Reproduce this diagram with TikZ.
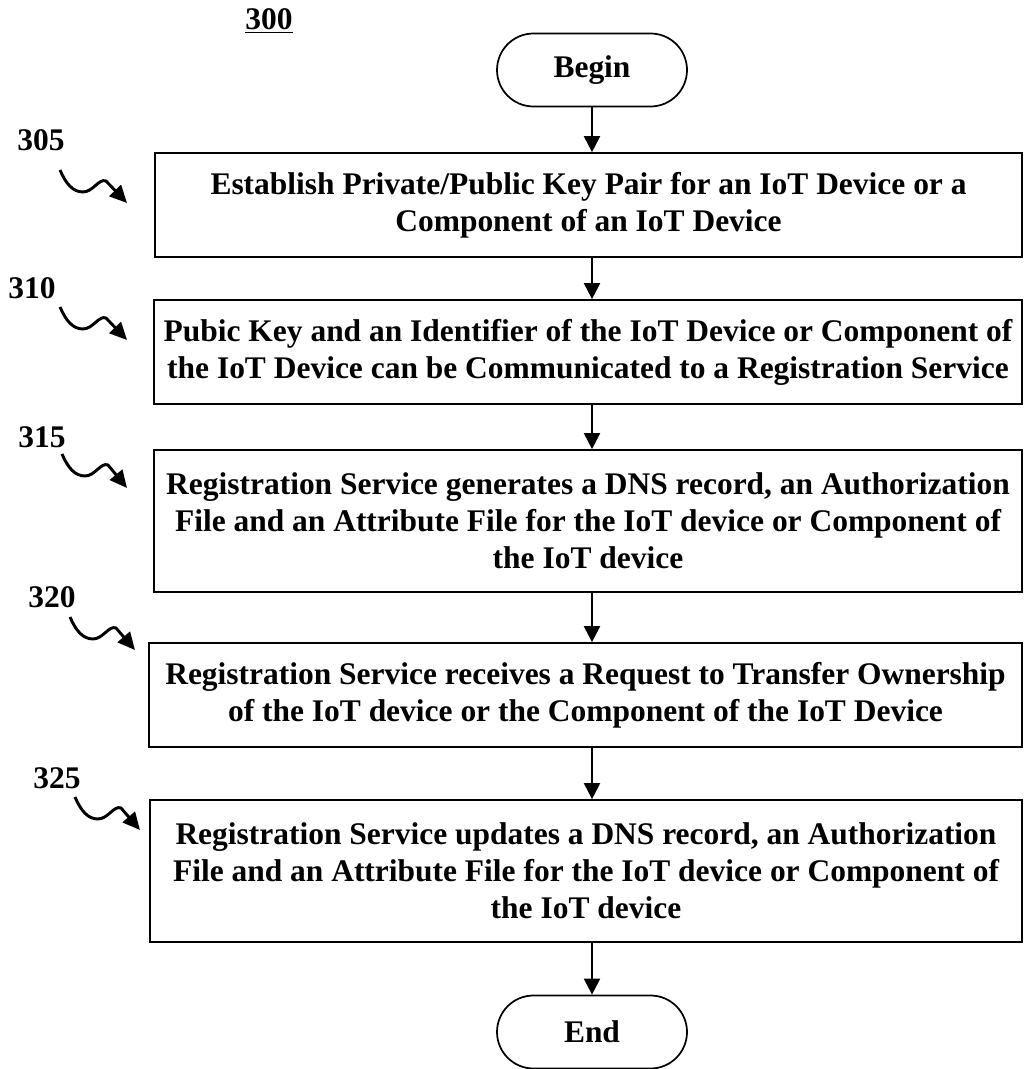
\documentclass[tikz,border=0pt]{standalone}
\usepackage{fontspec}
\setmainfont{Liberation Serif}
\usetikzlibrary{shapes.misc,arrows.meta}
\begin{document}
\begin{tikzpicture}[x=0.75pt,y=-0.75pt,
  txt/.style={font=\fontsize{23.6}{27.75}\selectfont\bfseries},
  stepbox/.style={txt,draw,line width=1.3pt,align=center,inner sep=0pt},
  term/.style={txt,draw,rounded rectangle,line width=1.3pt,minimum width=142.5pt,minimum height=54.75pt,inner sep=0pt},
  flow/.style={line width=1.6pt,-{Triangle[length=12pt,width=12pt]}},
  squig/.style={line width=2.2pt,-{Triangle[length=13pt,width=12pt]}},
  lbl/.style={txt,inner sep=0pt}]
\useasboundingbox (0,0) rectangle (1024,1069);

\node[lbl] (n300) at (269,21) {\underline{300}};

\node[term] (begin) at (592,70) {Begin};
\node[stepbox,minimum width=650.25pt,minimum height=78pt] (b305) at (588.5,205)
  {Establish Private/Public Key Pair for an IoT Device or a\\Component of an IoT Device};
\node[stepbox,minimum width=651pt,minimum height=78pt] (b310) at (588,352)
  {Pubic Key and an Identifier of the IoT Device or Component of\\the IoT Device can be Communicated to a Registration Service};
\node[stepbox,minimum width=651pt,minimum height=106.5pt] (b315) at (588,521)
  {Registration Service generates a DNS record, an Authorization\\File and an Attribute File for the IoT device or Component of\\the IoT device};
\node[stepbox,minimum width=654.75pt,minimum height=78pt] (b320) at (585.5,695)
  {Registration Service receives a Request to Transfer Ownership\\of the IoT device or the Component of the IoT Device};
\node[stepbox,minimum width=654pt,minimum height=106.5pt] (b325) at (586,871)
  {Registration Service updates a DNS record, an Authorization\\File and an Attribute File for the IoT device or Component of\\the IoT device};
\node[term] (end) at (592,1032) {End};

\draw[flow] (begin.south) -- (b305.north -| begin.south);
\draw[flow] (b305.south -| begin.south) -- (b310.north -| begin.south);
\draw[flow] (b310.south -| begin.south) -- (b315.north -| begin.south);
\draw[flow] (b315.south -| begin.south) -- (b320.north -| begin.south);
\draw[flow] (b320.south -| begin.south) -- (b325.north -| begin.south);
\draw[flow] (b325.south -| end.north) -- (end.north);

\node[lbl] (n305) at (41,140) {305};
\node[lbl] (n310) at (32,288) {310};
\node[lbl] (n315) at (42,437) {315};
\node[lbl] (n320) at (52,597) {320};
\node[lbl] (n325) at (57,778) {325};

\coordinate (s305) at (60,170);  \coordinate (t305) at (127,203);
\coordinate (s310) at (60,307);  \coordinate (t310) at (127,340);
\coordinate (s315) at (62,454);  \coordinate (t315) at (127,488);
\coordinate (s320) at (70,617);  \coordinate (t320) at (135,650);
\coordinate (s325) at (75,797);  \coordinate (t325) at (140,830);

\foreach \k in {305,310,315,320,325}{
  \draw[squig] (s\k) .. controls +(6,14) and +(-10,0) .. ++(23,22)
     .. controls +(10,0) and +(-7,-3) .. ++(23,-11) -- (t\k);
}
\end{tikzpicture}
\end{document}
